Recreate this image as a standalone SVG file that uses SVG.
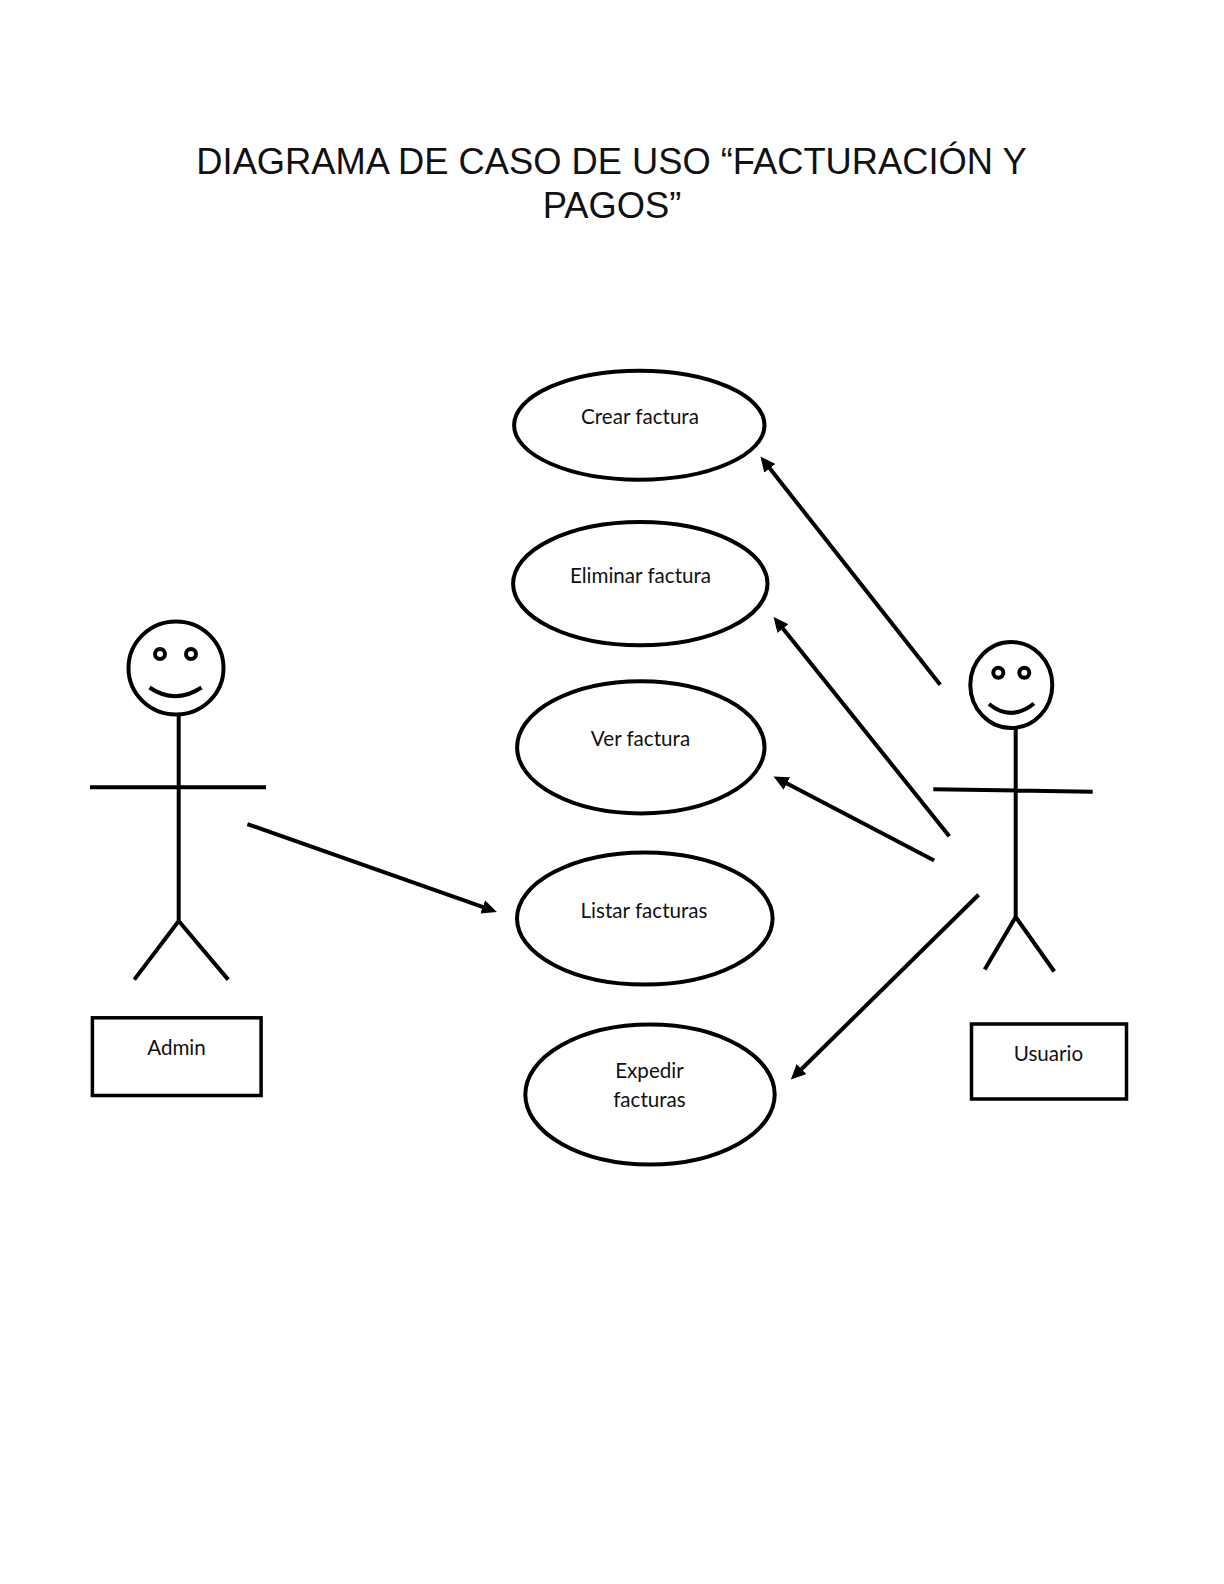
<svg xmlns="http://www.w3.org/2000/svg" width="1224" height="1584" viewBox="0 0 1224 1584">
<style>
.s{fill:none;stroke:#000;stroke-width:4}
.r{fill:none;stroke:#000;stroke-width:3.5}
.e{fill:#fff;stroke:#000;stroke-width:4}
.t{font-family:"Lato","Liberation Sans",sans-serif;font-size:20.6px;fill:#111;text-anchor:middle}
.h{font-family:"Liberation Sans",Arial,sans-serif;font-size:36.3px;fill:#111;text-anchor:middle}
.c{fill:none;stroke:#000;stroke-width:4;marker-end:url(#a)}
</style>
<defs><marker id="a" markerUnits="userSpaceOnUse" markerWidth="16" markerHeight="14" refX="2" refY="7" orient="auto"><path d="M0 0L15 7L0 14z" fill="#000"/></marker></defs>
<rect width="1224" height="1584" fill="#fff"/>
<g id="title"><text class="h" x="611.500" y="174">DIAGRAMA DE CASO DE USO “FACTURACIÓN Y</text><text class="h" x="612" y="218">PAGOS”</text></g>
<g id="uc-crear"><ellipse class="e" cx="639.300" cy="425.200" rx="125.200" ry="54.500"/><text class="t" x="640" y="423.500">Crear factura</text></g>
<g id="uc-eliminar"><ellipse class="e" cx="640.300" cy="583.700" rx="127.200" ry="61.600"/><text class="t" x="640.500" y="583">Eliminar factura</text></g>
<g id="uc-ver"><ellipse class="e" cx="640.800" cy="747.300" rx="123.700" ry="66.100"/><text class="t" x="640.500" y="746">Ver factura</text></g>
<g id="uc-listar"><ellipse class="e" cx="644.800" cy="918.500" rx="127.800" ry="66.100"/><text class="t" x="644" y="917.500">Listar facturas</text></g>
<g id="uc-expedir"><ellipse class="e" cx="650" cy="1094.500" rx="124.700" ry="70"/><text class="t" x="649.500" y="1078">Expedir</text><text class="t" x="649.500" y="1107">facturas</text></g>
<g id="actor-admin">
<ellipse class="s" cx="176" cy="668" rx="47.500" ry="46.500"/>
<circle class="s" cx="160" cy="654" r="5"/><circle class="s" cx="191" cy="654" r="5"/>
<path class="s" d="M149.500 687.500Q175 705 201.500 687.500"/>
<path class="s" d="M178.700 715V921M90 787.300H266M178.700 921L134.300 979.600M178.700 921L228.200 979.600"/>
</g>
<g id="label-admin"><rect class="r" x="92.400" y="1017.800" width="168.700" height="77.700"/><text class="t" x="176.500" y="1054.500">Admin</text></g>
<g id="actor-usuario">
<ellipse class="s" cx="1011.300" cy="685" rx="41" ry="43"/>
<circle class="s" cx="998.300" cy="672.700" r="5"/><circle class="s" cx="1024.300" cy="672.700" r="5"/>
<path class="s" d="M989 704Q1011 722 1034 703.500"/>
<path class="s" d="M1015.700 729V917M933.300 789.300L1092.700 791.700M1015.700 917L984.700 969.500M1015.700 917L1054.300 971.500"/>
</g>
<g id="label-usuario"><rect class="r" x="971.500" y="1024" width="155" height="75"/><text class="t" x="1048.500" y="1061">Usuario</text></g>
<g id="connectors">
<path class="c" d="M940.200 684.700L768.500 466.700"/>
<path class="c" d="M949.300 836.200L781.700 627.100"/>
<path class="c" d="M934.200 860.400L785.100 782.600"/>
<path class="c" d="M247.400 824.100L484.600 907.600"/>
<path class="c" d="M978.600 894.800L800.100 1070.500"/>
</g>
</svg>
